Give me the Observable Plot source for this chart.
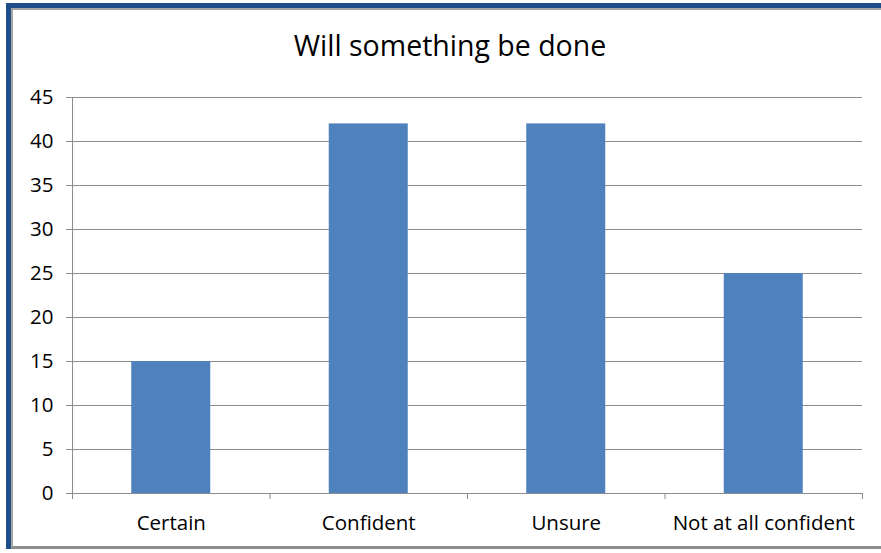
<!DOCTYPE html>
<html>
<head>
<meta charset="utf-8">
<script src="https://cdn.jsdelivr.net/npm/d3@7"></script>
<script src="https://cdn.jsdelivr.net/npm/@observablehq/plot@0.6"></script>
<style>
  html, body { margin: 0; padding: 0; background: #fff; }
  #wrap { position: relative; width: 881px; height: 553px; overflow: hidden; font-family: "Open Sans", sans-serif; }
  #frame { position: absolute; left: 6px; top: 3px; width: 900px; height: 546px;
           border-left: 5px solid #1F4E8A; border-top: 5px solid #1F4E8A; box-sizing: border-box; }
  #inner { position: absolute; left: 11px; top: 8px; width: 900px; height: 541px;
           border-left: 2px solid #A6A6A6; border-top: 2px solid #A6A6A6; border-bottom: 3px solid #8C8C8C; box-sizing: border-box; }
  #title { position: absolute; left: 0; width: 900px; top: 26px; text-align: center; font-size: 28.5px; color: #000; }
  #chart { position: absolute; left: 0; top: 70px; }
</style>
</head>
<body>
<div id="wrap">
  <div id="frame"></div>
  <div id="inner"></div>
  <div id="title">Will something be done</div>
  <div id="chart"></div>
</div>
<script>
const categories = ["Certain", "Confident", "Unsure", "Not at all confident"];
const values = [15, 42, 42, 25];
const yTicks = [0, 5, 10, 15, 20, 25, 30, 35, 40, 45];

const data = categories.map((c, i) => ({ category: c, value: values[i], index: i }));
const boundaries = d3.range(categories.length + 1);

const gridColor = "#8C8C8C";

const chart = Plot.plot({
  width: 881,
  height: 475,
  marginLeft: 72,
  marginRight: 19,
  marginTop: 27,
  marginBottom: 52,
  style: { fontFamily: "Open Sans, sans-serif", fontSize: "20.5px", color: "#000", background: "transparent", overflow: "visible" },
  x: { type: "linear", domain: [0, categories.length], axis: null },
  y: { domain: [0, 45], ticks: yTicks, label: null },
  marks: [
    Plot.gridY(yTicks, { stroke: gridColor, strokeOpacity: 1, strokeWidth: 1 }),
    Plot.axisY(yTicks, { tickSize: 6, tickPadding: 13, stroke: gridColor, strokeOpacity: 1, fontSize: 20.5, fill: "#000", label: null }),
    Plot.ruleX([0], { stroke: gridColor, strokeWidth: 1 }),
    Plot.rectY(data, { x1: d => d.index + 0.3, x2: d => d.index + 0.7, y1: 0, y2: "value", fill: "#4F81BD" }),
    Plot.ruleY([0], { stroke: gridColor, strokeWidth: 1 }),
    Plot.axisX(boundaries, { tickSize: 6, tickFormat: () => "", stroke: gridColor, strokeOpacity: 1, label: null }),
    Plot.text(data, { x: d => d.index + 0.5, y: 0, text: "category", dy: 30, fontSize: 20.5, fill: "#000" })
  ]
});

document.getElementById("chart").appendChild(chart);
</script>
</body>
</html>
